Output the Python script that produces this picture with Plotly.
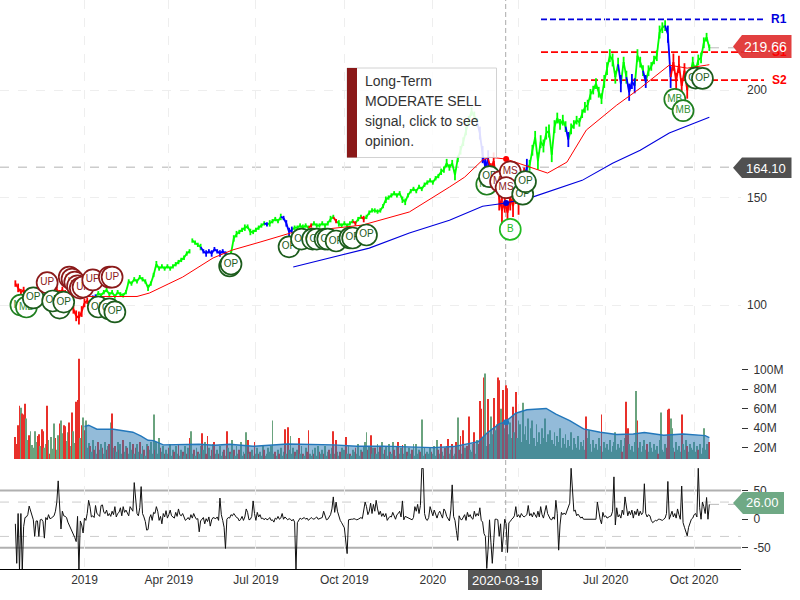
import pandas as pd
import plotly.graph_objects as go

HOLIDAYS = ["2018-11-22","2018-12-05","2018-12-25","2019-01-01","2019-01-21","2019-02-18","2019-04-19",
            "2019-05-27","2019-07-04","2019-09-02","2019-11-28","2019-12-25","2020-01-01","2020-01-20",
            "2020-02-17","2020-04-10","2020-05-25","2020-07-03","2020-09-07"]
tick_dates = ["2019-01-02","2019-04-01","2019-07-01","2019-10-01","2020-01-02","2020-04-01","2020-07-01","2020-10-01"]
tick_text = ["2019","Apr 2019","Jul 2019","Oct 2019","2020","","Jul 2020","Oct 2020"]

# closing price, read every second session
price = [110,108,106,107,105,106,104,106,105,107,
 108,106,104,106,108,107,106,107,105,103,
 100,98,95,94,97,101,102,101,103,104,
 105.5,104.5,106,107,105,106,104,106,105,104.5,
 106,111,110,112,111,113,112,111,108,110,
 114,119,117,118,117,118,117,118,119,120,
 121,122,124,125,130,129,128,127,125,124,
 125,124,126,125,124,125,124,123,124,131,
 133,134,135,136,136.5,134,134,135,136,137,
 138,137.5,138,139,140,139,141,140.5,138,134,
 135,136,136,137,136,137,136,137,138,137,
 137,138,137,138,140,141,139,138,137,138,
 137,138,139,138,140,141,140,141,143,144,
 144,143.5,144,146,149,150,151,152,151,152,
 149,148,151,153,154,153,155,154,156,157,
 158,157,159,160,162,163,166,164,166,160.5,
 168,172,176,181,186,190,188,185,180,170,
 164,168,163,167,158,150,144,148,143,150,
 146,152,147,151,160,164,165,172,178,167,
 176,174,180,181,170,183,187,184,186,183,
 177,182,184,186,185,189,192,193,198,200,
 203,199,196,204,210,216,214,206,212,203,
 213,206,199,204,202,216,213,209,204,209,
 211,214,216,227,229,230,226,206,213,204,
 212,202,209,200,207,213,209,214,215,222,
 224.6,219.66]
# each session's high-low range, read at the same sessions
price_range = [3,4,3,3,2,3,3,2,3,3,
 3,3,3,2,3,3,2,3,4,4,
 5,4,5,6,5,4,3,3,3,2,
 2,2,2,2,2,2,2,2,2,2,
 2,2,2,2,2,2,2,2,3,2,
 2,3,2,2,2,2,2,2,2,2,
 2,2,2,2,2,2,2,3,2,3,
 2,3,2,2,3,2,2,2,2,3,
 3,2,2,3,2,3,2,2,2,2,
 2,2,3,2,2,2,3,2,3,4,
 3,2,2,2,3,2,2,2,2,2,
 2,2,2,2,3,2,2,3,2,2,
 2,2,2,2,2,2,3,2,2,2,
 2,2,2,2,3,2,2,2,2,2,
 3,3,2,2,2,2,2,2,2,2,
 2,2,2,2,3,3,4,3,3,5,
 3,4,4,4,4,4,4,4,6,8,
 8,8,6,8,10,12,12,10,10,12,
 10,10,10,8,8,8,5,5,6,8,
 6,6,6,6,7,6,5,5,5,5,
 7,5,4,4,4,4,5,5,5,4,
 5,5,5,6,6,6,6,6,6,8,
 5,6,8,7,7,6,5,5,6,5,
 4,4,5,6,5,5,8,10,8,8,
 8,7,7,8,5,5,5,5,5,5,
 4,3]
# colour of each price point: (first index, last index, colour name)
price_runs = [(0,27,"red"),(28,29,"blue"),(68,77,"blue"),(91,91,"blue"),(97,100,"blue"),(107,107,"red"),
              (116,116,"red"),(123,123,"red"),(126,126,"red"),(168,171,"blue"),(172,184,"red"),(185,185,"blue"),
              (200,200,"blue"),(219,219,"blue"),(222,224,"blue"),(228,228,"blue"),(236,237,"blue"),(238,243,"red")]

ma_short_s = [50,59,88,97,121,143,157,177,199,251,285,314,325,338,343,355,385,399,413,435,452,473,486,500,502]
ma_short = [104,104,104,105.6,113,121.9,125.6,129.3,133.5,137.2,143.3,154.9,159.5,167.5,168.8,167.9,161.4,166.5,181.4,193,200.9,211.6,210.2,211.6,211.8]
ma_long_s = [201,222,256,285,314,338,355,374,410,432,452,473,502]
ma_long = [117.7,121,126.5,133.5,139.5,146,147.5,150.2,158,166,172,180,187.4]

levels = {"R1":232.9,"S1":217.7,"S2":204.6}

signal_s = [4,8,13,23,32,27,35,39,41,43,45,47,49,56,68,70,60,68,72,155,156,198,207,215,218,224,226,232,242,244,254,341,343,351,358,355,367,369,358,477,483,492,497]
signal_y = [100,99.1,103.3,110.4,98.6,101.9,101.4,113,112.1,110.7,108.9,107.9,108.4,111.7,113,113,99.1,98.2,96.8,118.2,119.1,127.1,130.7,130.7,130.7,130.7,130.7,129.8,131.2,131.2,132.6,156.2,159.7,157.4,162,154.6,151.6,157.4,135.2,195.7,190.4,205.6,205.4]
signal_label = ["MB","MB","OP","UP","OP","OP","OP","UP","UP","UP","UP","UP","UP","UP","UP","UP","OP","OP","OP","OP","OP","OP","OP","OP","OP","OP","OP","OP","OP","OP","OP","MB","OP","MS","MS","MS","OP","OP","B","MB","MB","OP","OP"]

# volume in millions, negative = down day (red)
volume = [-31,-24,-43,-63,61,-55,-54,-65,50,28,
 -33,37,23,20,37,26,-32,-34,22,-39,
 -37,20,24,-63,28,-14,31,19,45,-30,
 18,33,-45,48,35,-43,-42,27,36,-46,
 22,-56,37,25,-67,-69,-111,30,-43,51,
 -38,48,20,25,-22,16,28,-18,22,14,
 -26,18,24,-20,14,26,-18,22,-24,46,
 -55,20,-22,16,26,-18,24,14,-28,16,
 22,-20,14,26,18,-24,14,-20,24,16,
 -26,14,22,-18,12,24,-22,18,26,14,
 54,-18,26,14,30,-20,16,22,-14,18,
 14,-20,24,12,18,-16,22,14,-24,12,
 18,-16,12,22,-14,20,-30,37,14,-18,
 12,20,-16,14,22,-35,18,26,-14,-32,
 20,12,-18,24,-26,14,18,-14,22,12,
 16,-18,12,-37,20,-16,14,28,-18,12,
 22,14,-18,26,12,16,-14,36,-28,14,
 -16,18,12,-26,14,20,-14,16,12,22,
 -18,12,14,20,16,22,48,14,-16,12,
 18,-14,20,12,16,-39,14,-41,18,32,
 14,20,-16,12,18,-30,14,22,-14,12,
 20,-16,-38,14,12,18,-14,20,12,22,
 -16,14,18,-14,22,12,16,-18,14,20,
 -37,14,-28,16,12,-16,20,14,18,-31,
 14,22,-14,12,18,16,-20,14,24,12,
 18,-16,22,26,36,-18,22,-33,14,20,
 -20,14,24,16,-22,26,14,-18,22,12,
 24,-16,14,26,-18,12,22,-26,14,20,
 -23,14,24,-16,12,20,14,-18,24,12,
 24,14,18,-16,49,12,20,-14,16,14,
 20,-16,14,22,12,28,-18,14,-24,16,
 12,-20,22,-29,14,18,-24,12,14,-26,
 51,-18,-32,14,-38,20,12,-22,-52,18,
 16,24,-36,14,28,-24,-68,-60,30,-92,
 96,22,-70,24,52,34,-71,38,44,-92,
 -89,60,36,-79,40,-84,-81,34,46,30,
 -62,36,-77,30,48,44,26,66,34,42,
 28,50,24,40,48,30,22,44,26,36,
 24,40,30,50,26,34,20,38,28,24,
 36,22,32,26,40,20,30,24,34,20,
 28,22,36,18,30,24,20,32,18,26,
 22,28,18,-52,30,38,24,16,28,20,
 24,18,30,22,-54,16,26,20,24,18,
 28,16,22,26,36,18,24,20,28,-16,
 22,30,-67,-40,24,18,22,16,26,78,
 -48,20,26,16,22,28,18,-24,16,26,
 20,16,24,18,22,-14,28,56,18,16,
 24,-20,-59,-60,50,40,20,-16,26,18,
 22,16,-54,24,18,28,-22,16,24,20,
 18,26,16,22,-18,24,14,20,40,18,
 24,16,-26]

vol_avg_s = [50,53,59,71,85,91,96,100,107,121,133,144,155,172,192,197,230,247,266,278,302,317,326,335,341,350,354,362,370,377,384,391,401,411,423,435,447,455,469,483,499,502]
vol_avg = [41.8,43.1,39,39,36,32,27.7,27.4,23,23.6,23.6,22.6,23.6,21.6,24,24,23,21.6,21.8,21.3,20.2,21.3,23.6,26.4,35,44.5,46.2,55.4,58.9,59.9,60.2,54.4,47.9,39.4,36,33.6,34.2,35.6,32.9,34.2,32.5,30.5]

oscillator = [-8,-77,10,-90,10,-90,-13,3,4,8,
 23,14,9,-1,-30,-3,-3,-30,-1,0,
 -4,-33,3,-1,8,1,2,4,6,14,
 30,67,10,-17,14,6,5,3,-5,-10,
 -14,-20,-25,-32,-39,5,-90,-3,-10,-24,
 2,-2,10,33,22,4,6,3,24,10,
 8,5,24,25,12,10,16,6,10,5,
 14,8,22,4,10,12,20,6,22,12,
 16,10,6,22,18,14,64,30,10,6,
 20,57,10,4,-4,-19,-18,2,8,-2,
 12,10,22,14,-2,5,-8,10,4,15,
 2,8,16,6,4,2,12,5,18,8,
 6,10,4,-2,0,3,-1,8,2,10,
 4,0,1,-22,-3,0,3,-8,1,-4,
 4,-12,-1,3,2,1,4,-2,37,8,
 -2,-14,-51,0,3,2,8,6,10,5,
 3,2,-3,0,5,-2,4,18,12,-1,
 0,5,32,10,-2,12,4,8,1,2,
 -1,2,-1,0,3,-2,-1,-5,2,0,
 5,0,2,10,0,4,1,-1,1,0,
 -3,0,-5,-90,-6,-2,2,0,1,3,
 0,2,-2,0,3,1,0,2,4,0,
 1,2,3,14,6,-1,0,4,8,18,
 39,12,30,14,4,-2,-6,-10,-15,-38,
 -60,-1,0,0,0,1,0,-1,0,2,
 3,1,14,30,22,8,14,28,10,26,
 14,33,18,8,14,5,10,4,10,-2,
 2,5,4,12,6,0,8,10,14,4,
 32,-1,5,4,2,1,0,-1,3,22,
 14,26,10,24,89,89,10,0,-2,3,
 22,12,6,16,8,2,10,14,8,2,
 18,14,5,2,-3,16,60,5,-2,-20,
 -37,6,0,-1,3,8,-2,12,4,8,
 2,0,14,5,10,6,20,-2,-5,-25,
 -30,-86,-50,-1,-40,-77,-40,0,0,-1,
 -30,-8,-57,-20,0,-8,-58,-6,-4,0,
 2,6,22,4,8,3,10,6,4,6,
 8,24,6,10,4,12,8,3,14,4,
 22,8,2,14,24,10,6,0,-1,4,
 0,33,10,-54,-10,12,8,11,8,14,
 22,28,89,40,14,16,6,9,4,2,
 4,0,0,0,-1,0,0,-1,0,-1,
 0,30,10,0,-8,12,4,6,2,4,
 5,6,14,74,-10,20,4,8,2,16,
 8,39,22,6,14,8,16,2,14,8,
 18,6,14,8,12,62,10,4,8,6,
 -2,-6,-4,-2,-3,0,0,-1,-2,0,
 2,10,66,0,6,14,4,10,2,18,
 8,0,58,-6,-14,-20,-29,-14,-6,0,
 2,8,10,4,89,20,0,30,22,10,
 38,0,26]

W, H = 741.0, 569.0
def px(x): return x / W
def py(y): return (H - y) / H

all_days = pd.bdate_range("2018-09-01", "2020-12-31", freq="C", holidays=HOLIDAYS)
first = all_days.get_loc(pd.Timestamp("2019-01-02")) - 50
dates = [d.strftime("%Y-%m-%d") for d in all_days[first:first + 503]]
cross = "2020-03-19"

fig = go.Figure()

# price, drawn as coloured segments plus a high-low stick at each read session
colour_of = ["lime"] * len(price)
for a, b, c in price_runs:
    for i in range(a, b + 1):
        colour_of[i] = c
pd_dates = dates[::2]
for name, col in [("lime", "#00ff00"), ("blue", "#0000ff"), ("red", "#ff0000")]:
    xs, ys, sx, sy = [], [], [], []
    for i in range(len(price)):
        if colour_of[i] == name:
            sx += [pd_dates[i], pd_dates[i], None]
            sy += [price[i] - price_range[i] / 2, price[i] + price_range[i] / 2, None]
            if i > 0 and i != 64:
                xs += [pd_dates[i - 1], pd_dates[i], None]
                ys += [price[i - 1], price[i], None]
    fig.add_trace(go.Scatter(x=xs, y=ys, mode="lines", line=dict(color=col, width=1.8), hoverinfo="skip", showlegend=False))
    fig.add_trace(go.Scatter(x=sx, y=sy, mode="lines", line=dict(color=col, width=1.8), hoverinfo="skip", showlegend=False))

fig.add_trace(go.Scatter(x=[dates[i] for i in ma_short_s], y=ma_short, mode="lines", line=dict(color="#ff0000", width=1), showlegend=False))
fig.add_trace(go.Scatter(x=[dates[i] for i in ma_long_s], y=ma_long, mode="lines", line=dict(color="#0000dd", width=1.1), showlegend=False))
fig.add_trace(go.Scatter(x=[cross, cross], y=[167.9, 147.5], mode="markers", marker=dict(size=6, color=["#ff0000", "#0000dd"]), showlegend=False))

# opinion signals, one trace each so later circles hide earlier text
style = {"OP": ("#1c5c1c", "#1c5c1c"), "MB": ("#1f7f1f", "#2f8f2f"), "UP": ("#8b1a1a", "#8b1a1a"),
         "MS": ("#8b1a1a", "#8b1a1a"), "B": ("#22bb22", "#22bb22")}
for s, v, lab in zip(signal_s, signal_y, signal_label):
    edge, txt = style[lab]
    fig.add_trace(go.Scatter(x=[dates[s]], y=[v], mode="markers+text", text=[lab], textposition="middle center",
                             textfont=dict(size=10, color=txt, family="Liberation Sans"),
                             marker=dict(size=21, color="white", line=dict(color=edge, width=1.7)),
                             showlegend=False, hoverinfo="skip"))

# volume
v_col = ["#e8302a" if v < 0 else "#6aa37e" for v in volume]
fig.add_trace(go.Bar(x=dates[:len(volume)], y=[abs(v) for v in volume], marker=dict(color=v_col, line=dict(width=0)),
                     width=0.62, xaxis="x2", yaxis="y2", showlegend=False))
fig.add_trace(go.Scatter(x=[dates[i] for i in vol_avg_s], y=vol_avg, mode="lines", fill="tozeroy",
                         fillcolor="rgba(40,120,180,0.5)", line=dict(color="#2277bb", width=1.4),
                         xaxis="x2", yaxis="y2", showlegend=False))
fig.add_trace(go.Scatter(x=[cross], y=[46.2], mode="markers", marker=dict(size=6, color="#2277bb"),
                         xaxis="x2", yaxis="y2", showlegend=False))

# oscillator
fig.add_trace(go.Scatter(x=dates[:len(oscillator)], y=oscillator, mode="lines", line=dict(color="#111111", width=1),
                         xaxis="x3", yaxis="y3", showlegend=False))

FONT = dict(family="Liberation Sans", size=12, color="#333333")
xcommon = dict(type="category", categoryorder="array", categoryarray=dates, range=[-11.1, 524.9],
               tickmode="array", tickvals=tick_dates, ticktext=tick_text, showgrid=True, gridcolor="#eeeeee",
               griddash="dash", gridwidth=1, zeroline=False, ticks="", fixedrange=True)
shapes = []
def line(x0, y0, x1, y1, color, width=1, dash=None, yref="paper", layer="above"):
    shapes.append(dict(type="line", xref="paper", yref=yref, x0=x0, x1=x1, y0=y0, y1=y1, layer=layer,
                       line=dict(color=color, width=width, dash=dash)))

# oscillator guides
for v, c, w, d in [(50, "#b0b0b0", 2, None), (-50, "#b0b0b0", 2, None), (30, "#cccccc", 1, "dash"), (-30, "#cccccc", 1, "dash")]:
    line(0, v, px(741), v, c, w, d, "y3", "below")
# crosshair
line(px(505.7), 0, px(505.7), 1, "#aaaaaa", 1, "5px,3px", layer="below")
line(0, 164.1, px(735), 164.1, "#cccccc", 1.5, "dash", "y", "below")
line(px(710), 219.66, px(735), 219.66, "#bbbbbb", 1, "dash", "y", "below")
line(px(710), 26, px(735), 26, "#bbbbbb", 1, "dash", "y3", "below")
# support and resistance
line(px(541), levels["R1"], px(764), levels["R1"], "#0000dd", 1.6, "6px,3px", "y", "below")
line(px(541), levels["S1"], px(764), levels["S1"], "#ff0000", 1.8, "7px,3px", "y", "below")
line(px(541), levels["S2"], px(764), levels["S2"], "#ff0000", 1.8, "7px,3px", "y", "below")

def rect(x0, y0, x1, y1, fill, edge=None, opacity=1):
    shapes.append(dict(type="rect", xref="paper", yref="paper", x0=px(x0), x1=px(x1), y0=py(y0), y1=py(y1),
                       fillcolor=fill, opacity=opacity, layer="above",
                       line=dict(color=edge or fill, width=1 if edge else 0)))
def badge(x_tip, x_sh, x_r, y0, y1, fill, opacity=1):
    ym = (y0 + y1) / 2
    path = (f"M {px(x_tip)} {py(ym)} L {px(x_sh)} {py(y0)} L {px(x_r)} {py(y0)} "
            f"L {px(x_r)} {py(y1)} L {px(x_sh)} {py(y1)} Z")
    shapes.append(dict(type="path", path=path, xref="paper", yref="paper", fillcolor=fill, opacity=opacity,
                       line=dict(width=0), layer="above"))

rect(347, 68, 496.5, 157.5, "white", "#cccccc", 0.87)
rect(347, 68, 357, 157.5, "#8a1818")
rect(468, 570, 542, 590, "#555555")
badge(733, 742, 791.5, 35, 58, "#e02f2f", 0.92)
badge(733, 742, 791.5, 157.5, 178, "#505050")
badge(733, 743, 784, 492, 514, "#6fa985")

def text(x, y, s, color="#333333", size=12, anchor="center", bold=False):
    return dict(xref="paper", yref="paper", x=px(x), y=py(y), text=f"<b>{s}</b>" if bold else s, showarrow=False,
                xanchor=anchor, yanchor="middle", font=dict(family="Liberation Sans", size=size, color=color))

annotations = [text(779, 19, "R1", "#0000dd", 12, bold=True), text(779, 52, "S1", "#ff0000", 12, bold=True),
               text(779, 80, "S2", "#ff0000", 12, bold=True),
               text(765.5, 47, "219.66", "white", 14), text(765.5, 168, "164.10", "white", 13),
               text(762, 503, "26.00", "white", 13), text(505, 580, cross, "white", 13)]
for i, t in enumerate(["Long-Term", "MODERATE SELL", "signal, click to see", "opinion."]):
    annotations.append(text(363, 81 + 20 * i, t, "#333333", 14, "left"))

fig.update_layout(
    width=800, height=600, margin=dict(l=0, r=59, t=0, b=31), autosize=False, showlegend=False,
    paper_bgcolor="white", plot_bgcolor="white", font=FONT, hovermode=False, barmode="overlay",
    xaxis=dict(**xcommon, domain=[0, 1], anchor="y", showticklabels=False),
    xaxis2=dict(**xcommon, domain=[0, 1], anchor="y2", showticklabels=False),
    xaxis3=dict(**xcommon, domain=[0, 1], anchor="y3", showticklabels=True, showline=True, linecolor="#000000", linewidth=1),
    yaxis=dict(domain=[py(350), 1], range=[79.1, 241.9], side="right", anchor="x", tickmode="array", tickvals=[100, 150, 200],
               showgrid=True, gridcolor="#eeeeee", griddash="dash", zeroline=False, ticks="", ticklabelstandoff=5, fixedrange=True),
    yaxis2=dict(domain=[py(459), py(350)], range=[8.6, 120], side="right", anchor="x2", tickmode="array",
                tickvals=[20, 40, 60, 80, 100], ticktext=["20M", "40M", "60M", "80M", "100M"], showgrid=False, zeroline=False,
                ticks="outside", ticklen=6, tickcolor="#333333", ticklabelstandoff=3, fixedrange=True),
    yaxis3=dict(domain=[0, py(468)], range=[-86.9, 89.5], side="right", anchor="x3", tickmode="array", tickvals=[-50, 0, 50],
                ticktext=["-50", "0", "50"], showgrid=False, zeroline=False, ticks="outside", ticklen=6, tickcolor="#333333",
                ticklabelstandoff=3, fixedrange=True),
    shapes=shapes, annotations=annotations,
)
fig.write_html("out.html", post_script="document.body.style.margin='0';", config=dict(displayModeBar=False))
